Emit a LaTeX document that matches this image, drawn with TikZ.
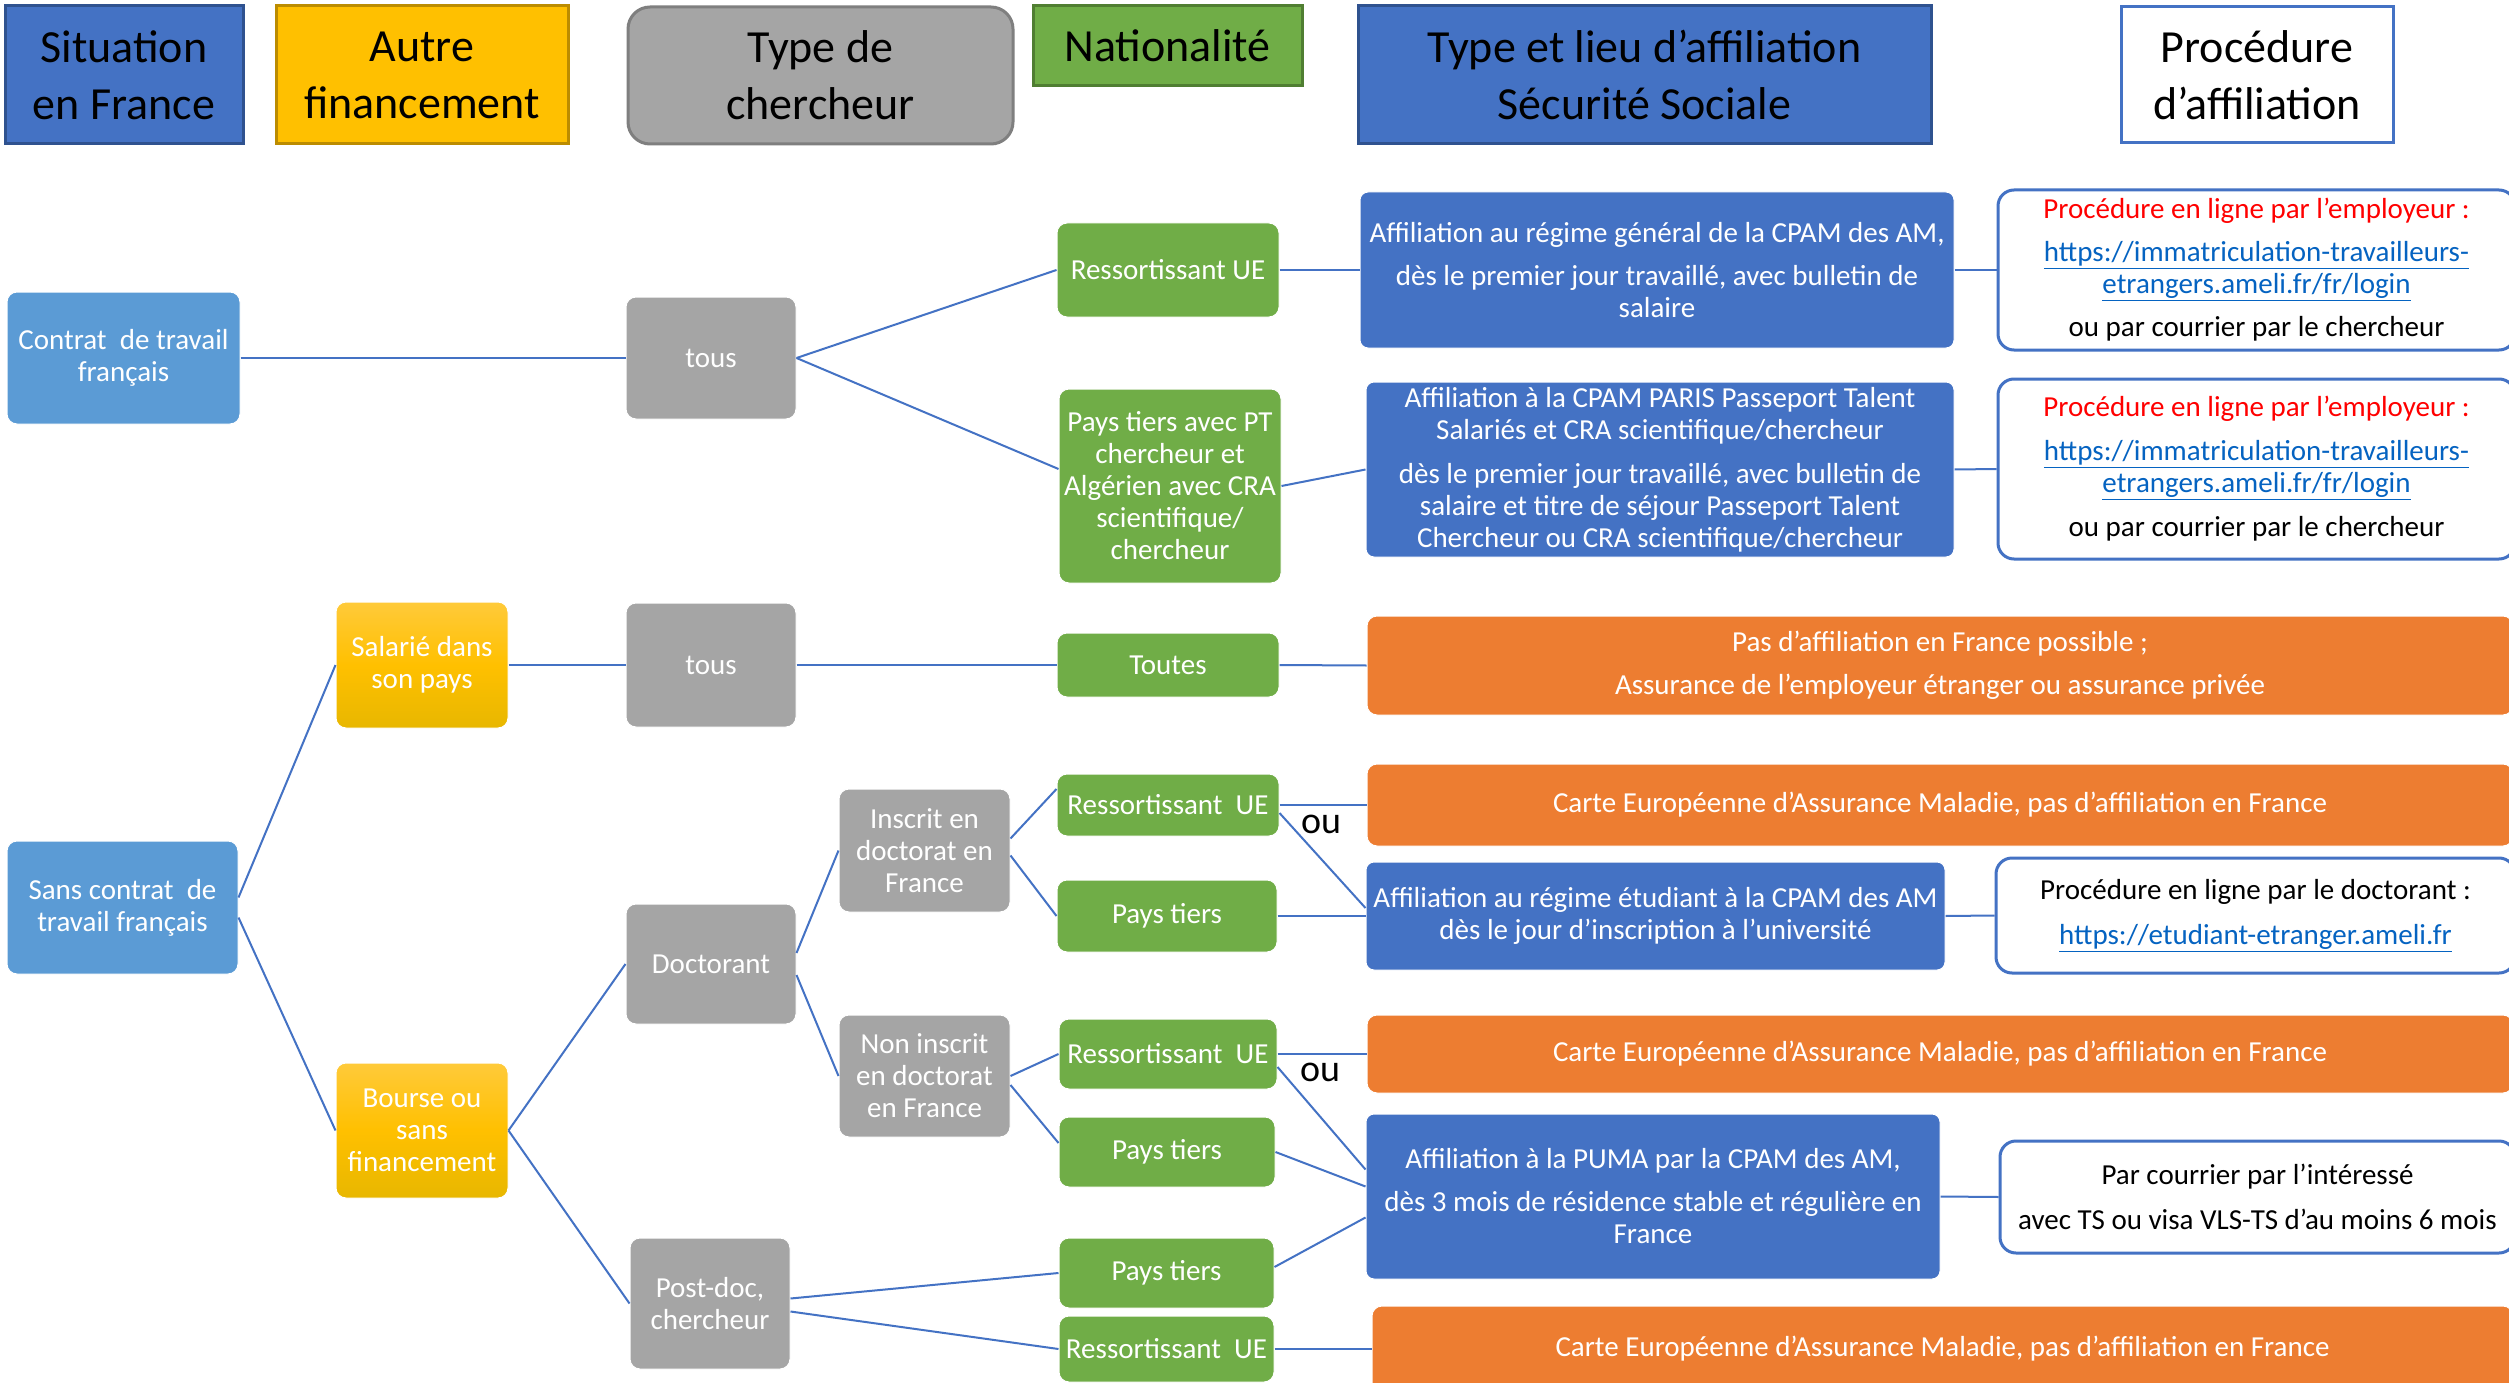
\documentclass[tikz,border=0pt]{standalone}
\usepackage{fontspec}
\setmainfont{Carlito}
\usetikzlibrary{calc}
\definecolor{cblue}{HTML}{4472C4}
\definecolor{cblueD}{HTML}{2F528F}
\definecolor{clblue}{HTML}{5B9BD5}
\definecolor{cgold}{HTML}{FFC000}
\definecolor{cgoldD}{HTML}{BC8C00}
\definecolor{cgoldT}{HTML}{FFCA3A}
\definecolor{cgoldB}{HTML}{E8B700}
\definecolor{cgray}{HTML}{A5A5A5}
\definecolor{cgrayD}{HTML}{7F7F7F}
\definecolor{cgreen}{HTML}{70AD47}
\definecolor{cgreenD}{HTML}{507E32}
\definecolor{corange}{HTML}{ED7D31}
\definecolor{clink}{HTML}{0563C1}
\newcommand\myfs[2]{\fontsize{#1}{#2}\selectfont}
\newcommand\lnk[1]{\textcolor{clink}{\underline{#1}}}
\begin{document}
\begin{tikzpicture}[x=1pt,y=-1pt,
  box/.style={inner sep=0pt, align=center},
  sz/.style n args={2}{minimum width=#1pt, minimum height=#2pt},
  hdr/.style={box, font={\myfs{46}{57}}, line width=3pt, text=black},
  bnode/.style={box, rounded corners=10pt, font={\myfs{29}{32}}, text=white, draw=white, line width=1pt},
  sit/.style={bnode, fill=clblue},
  fin/.style={bnode, top color=cgoldT, bottom color=cgoldB, middle color=cgold},
  typ/.style={bnode, fill=cgray},
  nat/.style={bnode, fill=cgreen},
  aff/.style={bnode, fill=cblue, rounded corners=8pt},
  org/.style={bnode, fill=corange},
  proc/.style={box, rounded corners=16pt, draw=cblue, line width=3pt, fill=white, font={\myfs{29}{32}}, text=black},
  oulbl/.style={inner sep=0pt, font={\myfs{38}{40}}, text=black},
  link/.style={draw=cblue, line width=2pt}
]
\useasboundingbox (0,0) rectangle (2509,1383);
\clip (0,0) rectangle (2509,1383);
\fill[white] (0,0) rectangle (2509,1383);

% headers
\node[hdr, fill=cblue, draw=cblueD, sz={238}{138}] (h1) at (124,75) {Situation\\en France};
\node[hdr, fill=cgold, draw=cgoldD, sz={292}{138}] (h2) at (422,75) {Autre\\financement};
\node[hdr, fill=cgray, draw=cgrayD, rounded corners=22pt, sz={385}{137}] (h3) at (820.5,75.5) {Type de\\chercheur};
\node[hdr, fill=cgreen, draw=cgreenD, sz={269}{80}] (h4) at (1167.5,46) {Nationalité};
\node[hdr, fill=cblue, draw=cblueD, sz={573}{138}] (h5) at (1644.5,75) {Type et lieu d’affiliation\\Sécurité Sociale};
\node[hdr, fill=white, draw=cblue, sz={272}{136}] (h6) at (2257,75) {Procédure\\d’affiliation};

% situation
\node[sit, sz={233}{132}] (contrat) at (123.5,358) {Contrat\ \ de travail\\français};
\node[sit, sz={231}{133}] (sans) at (122.5,907.5) {Sans contrat\ \ de\\travail français};
% financement
\node[fin, sz={172}{126}] (salarie) at (422,665) {Salarié dans\\son pays};
\node[fin, sz={172}{135}] (bourse) at (422,1130.5) {Bourse ou\\sans\\financement};
% type
\node[typ, sz={170}{122}] (tous1) at (711,358) {tous};
\node[typ, sz={170}{124}] (tous2) at (711,665) {tous};
\node[typ, sz={170}{120}] (doct) at (711,964) {Doctorant};
\node[typ, sz={160}{131}] (postdoc) at (710,1303.5) {Post-doc,\\chercheur};
\node[typ, sz={171}{123}] (inscrit) at (924.5,850.5) {Inscrit en\\doctorat en\\France};
\node[typ, sz={171}{122}] (noninscrit) at (924.5,1076) {Non inscrit\\en doctorat\\en France};
% nationalite
\node[nat, sz={222}{94}] (rue1) at (1168,270) {Ressortissant UE};
\node[nat, sz={222}{194}] (pt1) at (1170,486) {Pays tiers avec PT\\chercheur et\\Algérien avec CRA\\scientifique/\\chercheur};
\node[nat, sz={222}{64}] (toutes) at (1168,665) {Toutes};
\node[nat, sz={222}{62}] (rue2) at (1168,805) {Ressortissant\ \ UE};
\node[nat, sz={220}{72}] (pt2) at (1167,916) {Pays tiers};
\node[nat, sz={218}{70}] (rue3) at (1168,1054) {Ressortissant\ \ UE};
\node[nat, sz={216}{70}] (pt3) at (1167,1152) {Pays tiers};
\node[nat, sz={215}{70}] (pt4) at (1166.5,1273) {Pays tiers};
\node[nat, sz={215}{66}] (rue4) at (1166.5,1349) {Ressortissant\ \ UE};
% affiliation
\node[aff, sz={594}{156}] (aff1) at (1657,270) {Affiliation au régime général de la CPAM des AM,\\[11pt]dès le premier jour travaillé, avec bulletin de\\salaire};
\node[aff, sz={588}{175}] (aff2) at (1660,469.5) {Affiliation à la CPAM PARIS Passeport Talent\\Salariés et CRA scientifique/chercheur\\[12pt]dès le premier jour travaillé, avec bulletin de\\salaire et titre de séjour Passeport Talent\\Chercheur ou CRA scientifique/chercheur};
\node[aff, sz={579}{108}] (affstud) at (1655.5,916) {Affiliation au régime étudiant à la CPAM des AM\\dès le jour d’inscription à l’université};
\node[aff, sz={574}{165}] (puma) at (1653,1196.5) {Affiliation à la PUMA par la CPAM des AM,\\[11pt]dès 3 mois de résidence stable et régulière en\\France};
% orange
\node[org, sz={1146}{99}] (org1) at (1940,665.5) {Pas d’affiliation en France possible ;\\[11pt]Assurance de l’employeur étranger ou assurance privée};
\node[org, sz={1146}{82}] (org2) at (1940,805) {Carte Européenne d’Assurance Maladie, pas d’affiliation en France};
\node[org, sz={1146}{78}] (org3) at (1940,1054) {Carte Européenne d’Assurance Maladie, pas d’affiliation en France};
\node[org, sz={1141}{86}] (org4) at (1942.5,1349) {Carte Européenne d’Assurance Maladie, pas d’affiliation en France};
% procedures
\node[proc, sz={517}{160}] (proc1) at (2256.5,270) {\textcolor{red}{Procédure en ligne par l’employeur :}\\[11pt]\lnk{https://immatriculation-travailleurs-}\\\lnk{etrangers.ameli.fr/fr/login}\\[11pt]ou par courrier par le chercheur};
\node[proc, sz={517}{180}] (proc2) at (2256.5,469) {\textcolor{red}{Procédure en ligne par l’employeur :}\\[12pt]\lnk{https://immatriculation-travailleurs-}\\\lnk{etrangers.ameli.fr/fr/login}\\[12pt]ou par courrier par le chercheur};
\node[proc, sz={519}{115}] (procstud) at (2255.5,915.5) {Procédure en ligne par le doctorant :\\[13pt]\lnk{https://etudiant-etranger.ameli.fr}};
\node[proc, sz={515}{112}] (procpuma) at (2257.5,1197) {Par courrier par l’intéressé\\[13pt]avec TS ou visa VLS-TS d’au moins 6 mois};
% ou labels
\node[oulbl] (ou1) at (1321,824) {ou};
\node[oulbl] (ou2) at (1320,1072) {ou};

% connectors
\draw[link] (contrat.east) -- (tous1.west);
\draw[link] (tous1.east) -- (rue1.west);
\draw[link] (tous1.east) -- ($(pt1.west)+(0,-17)$);
\draw[link] (rue1.east) -- (aff1.west);
\draw[link] (pt1.east) -- (aff2.west);
\draw[link] (aff1.east) -- (proc1.west);
\draw[link] (aff2.east) -- (proc2.west);
\draw[link] ($(sans.east)+(0,-10)$) -- (salarie.west);
\draw[link] ($(sans.east)+(0,10)$) -- (bourse.west);
\draw[link] (salarie.east) -- (tous2.west);
\draw[link] (tous2.east) -- (toutes.west);
\draw[link] (toutes.east) -- (org1.west);
\draw[link] (bourse.east) -- (doct.west);
\draw[link] (bourse.east) -- (postdoc.west);
\draw[link] ($(doct.east)+(0,-11)$) -- (inscrit.west);
\draw[link] ($(doct.east)+(0,11)$) -- (noninscrit.west);
\draw[link] ($(inscrit.east)+(0,-12)$) -- ($(rue2.west)+(0,-16)$);
\draw[link] ($(inscrit.east)+(0,5)$) -- (pt2.west);
\draw[link] (rue2.east) -- (org2.west);
\draw[link] ($(rue2.east)+(0,8)$) -- ($(affstud.west)+(0,-8)$);
\draw[link] (pt2.east) -- (affstud.west);
\draw[link] (affstud.east) -- (procstud.west);
\draw[link] (noninscrit.east) -- (rue3.west);
\draw[link] ($(noninscrit.east)+(0,9)$) -- ($(pt3.west)+(0,-9)$);
\draw[link] (rue3.east) -- (org3.west);
\draw[link] ($(rue3.east)+(0,13)$) -- ($(puma.west)+(0,-27)$);
\draw[link] (pt3.east) -- ($(puma.west)+(0,-10)$);
\draw[link] ($(postdoc.east)+(0,-5)$) -- (pt4.west);
\draw[link] ($(postdoc.east)+(0,8)$) -- (rue4.west);
\draw[link] ($(pt4.east)+(0,-6)$) -- ($(puma.west)+(0,21)$);
\draw[link] (rue4.east) -- (org4.west);
\draw[link] (puma.east) -- (procpuma.west);
\end{tikzpicture}
\end{document}
